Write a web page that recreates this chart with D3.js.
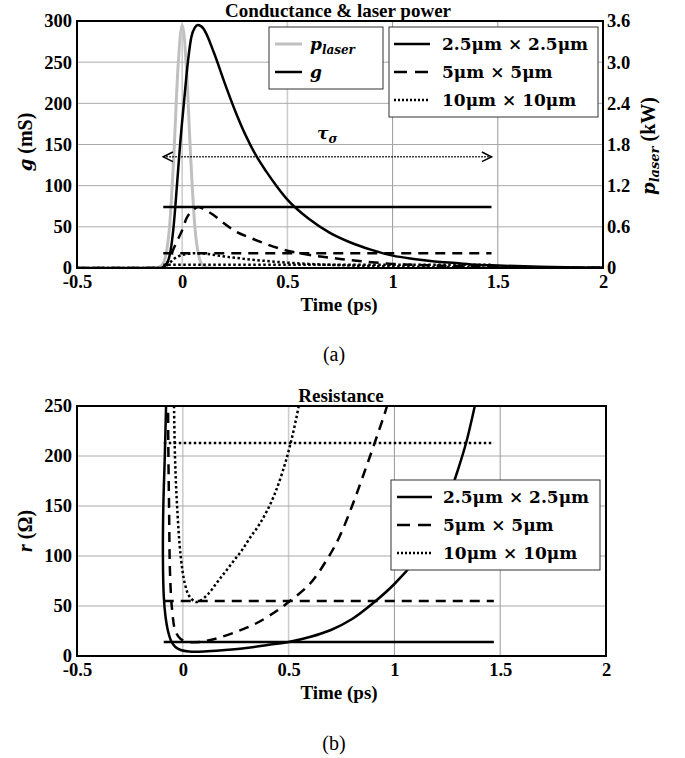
<!DOCTYPE html>
<html>
<head>
<meta charset="utf-8">
<script src="https://cdn.jsdelivr.net/npm/d3@7"></script>
<style>
body { margin: 0; background: #fff; }
</style>
</head>
<body>
<script>
// data
const xTicks = [-0.5, 0, 0.5, 1, 1.5, 2];
const gTicks = [0, 50, 100, 150, 200, 250, 300];
const pTicks = [0, 0.6, 1.2, 1.8, 2.4, 3.0, 3.6];
const rTicks = [0, 50, 100, 150, 200, 250];
const sizeNames = ["2.5μm × 2.5μm", "5μm × 5μm", "10μm × 10μm"];

// laser power (kW) vs time (ps)
const pLaser = [[-0.16, 0], [-0.12, 0.005], [-0.1, 0.03], [-0.08, 0.16], [-0.06, 0.61], [-0.04, 1.63], [-0.02, 2.92], [0, 3.54],
  [0.02, 2.92], [0.04, 1.63], [0.06, 0.61], [0.08, 0.16], [0.1, 0.03], [0.12, 0.005], [0.16, 0]];

// conductance g (mS)
const g25 = [[-0.5, 0], [-0.1, 0], [-0.08, 3], [-0.06, 15], [-0.05, 30], [-0.041, 50], [-0.025, 100], [-0.01, 150],
  [0.008, 200], [0.027, 250], [0.043, 280], [0.06, 292], [0.075, 295], [0.1, 291], [0.15, 262], [0.2, 226], [0.25, 192],
  [0.3, 162], [0.35, 137], [0.4, 117], [0.45, 99], [0.5, 83], [0.6, 60], [0.7, 43], [0.8, 31], [0.9, 22], [1.0, 15],
  [1.1, 11], [1.2, 8], [1.3, 6], [1.4, 4], [1.5, 3], [1.7, 1.5], [2.0, 0.5]];
const g5 = [[-0.5, 0], [-0.1, 0], [-0.08, 3], [-0.06, 12], [-0.04, 24], [-0.02, 35], [0, 46], [0.02, 60], [0.05, 70],
  [0.075, 74], [0.1, 72], [0.15, 64], [0.2, 54], [0.25, 45], [0.33, 36], [0.4, 29], [0.5, 21], [0.6, 16], [0.75, 11],
  [0.9, 7], [1.0, 5], [1.2, 3], [1.5, 1.2], [2.0, 0.3]];
const g10 = [[-0.5, 0], [-0.1, 0], [-0.08, 2], [-0.06, 6], [-0.04, 11], [-0.02, 14], [0.02, 17], [0.06, 18], [0.1, 17.5],
  [0.2, 14], [0.3, 11], [0.4, 8.5], [0.5, 6.5], [0.6, 5], [0.8, 3], [1.0, 2], [1.3, 1], [1.6, 0.5], [2.0, 0.2]];
const gLevels = [74, 18, 4];
const levelStart = -0.09;
const levelEnd = 1.47;
const tauArrow = [-0.09, 1.47, 135];

// resistance r (ohm)
const r25 = [[-0.078, 260], [-0.085, 200], [-0.092, 150], [-0.094, 100], [-0.09, 60], [-0.082, 40], [-0.07, 25],
  [-0.055, 15], [-0.035, 9], [-0.01, 6], [0.03, 4.5], [0.1, 4.5], [0.2, 6], [0.3, 8], [0.4, 11], [0.5, 14], [0.6, 19],
  [0.7, 26], [0.8, 37], [0.9, 53], [1.0, 72], [1.1, 96], [1.2, 128], [1.25, 155], [1.3, 186], [1.34, 214], [1.38, 250], [1.39, 260]];
const r5 = [[-0.07, 260], [-0.068, 200], [-0.065, 150], [-0.06, 80], [-0.05, 45], [-0.035, 25], [-0.01, 17], [0.03, 14],
  [0.08, 14], [0.15, 17], [0.25, 24], [0.35, 33], [0.45, 46], [0.5, 54], [0.6, 72], [0.68, 96], [0.74, 119], [0.8, 150],
  [0.85, 179], [0.9, 209], [0.965, 250], [0.975, 260]];
const r10 = [[-0.042, 260], [-0.037, 200], [-0.027, 150], [-0.01, 100], [0.01, 72], [0.03, 60], [0.06, 54], [0.08, 55],
  [0.12, 62], [0.16, 73], [0.2, 84], [0.24, 95], [0.28, 106], [0.32, 119], [0.36, 131], [0.4, 146], [0.44, 165],
  [0.48, 190], [0.5, 205], [0.52, 222], [0.546, 248], [0.556, 260]];
const rLevels = [14, 55, 213];

const dashes = [null, "10,7", "2.5,2.5"];
const legendDashes = [null, "13,8", "2,2"];
const serif = "'Liberation Serif', 'Times New Roman', serif";
const mathFont = "'DejaVu Serif', serif";

const svg = d3.select("body").append("svg")
  .attr("width", 685)
  .attr("height", 758)
  .attr("font-family", serif);

svg.append("defs").append("marker")
  .attr("id", "arr")
  .attr("viewBox", "0 0 10 10")
  .attr("refX", 9).attr("refY", 5)
  .attr("markerWidth", 8).attr("markerHeight", 8)
  .attr("orient", "auto-start-reverse")
  .append("path")
  .attr("d", "M1,1 L9,5 L1,9")
  .attr("fill", "none")
  .attr("stroke", "#000")
  .attr("stroke-width", 1.3);

// tick labels only, no tick marks or domain line
function styleTicks(a) {
  a.select(".domain").remove();
  a.attr("font-family", serif);
  a.selectAll("text")
    .attr("font-family", serif)
    .attr("font-size", 18.5)
    .attr("font-weight", "bold")
    .attr("fill", "#000");
}

function drawFrame(g, x, y, ticksY, clipId) {
  const [x0, x1] = x.range();
  const [y0, y1] = y.range();
  g.append("clipPath").attr("id", clipId)
    .append("rect").attr("x", x0).attr("y", y1).attr("width", x1 - x0).attr("height", y0 - y1);

  // grid
  g.append("g").selectAll("line").data(xTicks.slice(1, -1)).enter().append("line")
    .attr("x1", d => x(d)).attr("x2", d => x(d))
    .attr("y1", y0).attr("y2", y1)
    .attr("stroke", d => d < 0.75 ? "#cdcdcd" : "#999")
    .attr("stroke-width", d => d < 0.75 ? 1.6 : 1);
  g.append("g").selectAll("line").data(ticksY.slice(1, -1)).enter().append("line")
    .attr("x1", x0).attr("x2", x1)
    .attr("y1", d => y(d)).attr("y2", d => y(d))
    .attr("stroke", "#aaa")
    .attr("stroke-width", 1);

  g.append("g")
    .attr("transform", `translate(0,${y0})`)
    .call(d3.axisBottom(x).tickValues(xTicks).tickSize(0).tickPadding(7).tickFormat(d => String(d)))
    .call(styleTicks);
  g.append("g")
    .attr("transform", `translate(${x0},0)`)
    .call(d3.axisLeft(y).tickValues(ticksY).tickSize(0).tickPadding(5).tickFormat(d => String(d)))
    .call(styleTicks);
}

function box(g, x, y) {
  const [x0, x1] = x.range();
  const [y0, y1] = y.range();
  g.append("rect")
    .attr("x", x0).attr("y", y1).attr("width", x1 - x0).attr("height", y0 - y1)
    .attr("fill", "none").attr("stroke", "#000").attr("stroke-width", 2);
}

function legend(g, left, top, w, rowH, items) {
  g.append("rect")
    .attr("x", left).attr("y", top).attr("width", w).attr("height", rowH * items.length + 6)
    .attr("fill", "#fff").attr("stroke", "#333").attr("stroke-width", 1);
  items.forEach((it, i) => {
    const cy = top + 3 + rowH * (i + 0.5);
    g.append("line")
      .attr("x1", left + it.x1).attr("x2", left + it.x2)
      .attr("y1", cy).attr("y2", cy)
      .attr("stroke", it.color || "#000")
      .attr("stroke-width", it.width || 2.5)
      .attr("stroke-dasharray", it.dash);
    const t = g.append("text")
      .attr("x", left + it.tx).attr("y", cy + 6)
      .attr("font-family", mathFont)
      .attr("font-size", 17).attr("font-weight", "bold");
    it.label(t);
  });
}

// ---------- (a) conductance & laser power ----------
const xa = d3.scaleLinear().domain([-0.5, 2]).range([77, 603]);
const ya = d3.scaleLinear().domain([0, 300]).range([268, 21]);
const yp = d3.scaleLinear().domain([0, 3.6]).range([268, 21]);

const ga = svg.append("g");
drawFrame(ga, xa, ya, gTicks, "clipA");

ga.append("g")
  .attr("transform", `translate(${xa.range()[1]},0)`)
  .call(d3.axisRight(yp).tickValues(pTicks).tickSize(0).tickPadding(4).tickFormat(d => d === 0 ? "0" : d3.format(".1f")(d)))
  .call(styleTicks);

const lineA = d3.line().x(d => xa(d[0])).y(d => ya(d[1])).curve(d3.curveMonotoneX);
const lineP = d3.line().x(d => xa(d[0])).y(d => yp(d[1])).curve(d3.curveMonotoneX);

const plotA = ga.append("g").attr("clip-path", "url(#clipA)");
plotA.append("path").datum(pLaser)
  .attr("d", lineP).attr("fill", "none").attr("stroke", "#c0c0c0").attr("stroke-width", 3);

[g25, g5, g10].forEach((s, i) => {
  plotA.append("path").datum(s)
    .attr("d", lineA).attr("fill", "none").attr("stroke", "#000")
    .attr("stroke-width", 2.5).attr("stroke-dasharray", dashes[i]);
});
gLevels.forEach((v, i) => {
  plotA.append("line")
    .attr("x1", xa(levelStart)).attr("x2", xa(levelEnd))
    .attr("y1", ya(v)).attr("y2", ya(v))
    .attr("stroke", "#000").attr("stroke-width", 2.5).attr("stroke-dasharray", dashes[i]);
});

// tau_sigma arrow
plotA.append("line")
  .attr("x1", xa(tauArrow[0])).attr("x2", xa(tauArrow[1]))
  .attr("y1", ya(tauArrow[2])).attr("y2", ya(tauArrow[2]))
  .attr("stroke", "#000").attr("stroke-width", 1.5).attr("stroke-dasharray", "1.5,1.5")
  .attr("marker-start", "url(#arr)").attr("marker-end", "url(#arr)");
const tau = ga.append("text")
  .attr("x", 317).attr("y", 139)
  .attr("font-family", mathFont)
  .attr("font-size", 17).attr("font-weight", "bold").attr("font-style", "italic");
tau.append("tspan").text("τ");
tau.append("tspan").attr("font-size", 12).attr("dy", 4).text("σ");

box(ga, xa, ya);

ga.append("text")
  .attr("x", 338).attr("y", 17)
  .attr("text-anchor", "middle").attr("font-size", 19).attr("font-weight", "bold")
  .text("Conductance & laser power");

legend(ga, 269, 27, 114, 28, [
  { x1: 6, x2: 33, tx: 41, color: "#c0c0c0", width: 3,
    label: t => { t.append("tspan").attr("font-style", "italic").text("p"); t.append("tspan").attr("font-style", "italic").attr("font-size", 12).attr("dy", 4).text("laser"); } },
  { x1: 6, x2: 33, tx: 41,
    label: t => t.append("tspan").attr("font-style", "italic").text("g") }
]);
legend(ga, 389, 27, 209, 28, sizeNames.map((n, i) => ({
  x1: 5, x2: 41, tx: 53, dash: legendDashes[i], label: t => t.text(n)
})));

ga.append("text")
  .attr("x", 339).attr("y", 311)
  .attr("text-anchor", "middle").attr("font-size", 19).attr("font-weight", "bold")
  .text("Time (ps)");

const gLab = ga.append("text")
  .attr("transform", "translate(32,142) rotate(-90)")
  .attr("text-anchor", "middle").attr("font-size", 20).attr("font-weight", "bold");
gLab.append("tspan").attr("font-family", mathFont).attr("font-style", "italic").attr("font-size", 18).text("g");
gLab.append("tspan").text(" (mS)");

const pLab = ga.append("text")
  .attr("transform", "translate(655,146) rotate(-90)")
  .attr("text-anchor", "middle").attr("font-size", 20).attr("font-weight", "bold");
pLab.append("tspan").attr("font-family", mathFont).attr("font-style", "italic").attr("font-size", 18).text("p");
pLab.append("tspan").attr("font-family", mathFont).attr("font-style", "italic").attr("font-size", 13).attr("dy", 4).text("laser");
pLab.append("tspan").attr("dy", -4).text(" (kW)");

svg.append("text")
  .attr("x", 334).attr("y", 361)
  .attr("text-anchor", "middle").attr("font-size", 20)
  .text("(a)");

// ---------- (b) resistance ----------
const xb = d3.scaleLinear().domain([-0.5, 2]).range([77, 606]);
const yb = d3.scaleLinear().domain([0, 250]).range([656, 406]);

const gb = svg.append("g");
drawFrame(gb, xb, yb, rTicks, "clipB");

const lineB = d3.line().x(d => xb(d[0])).y(d => yb(d[1])).curve(d3.curveCatmullRom);
const plotB = gb.append("g").attr("clip-path", "url(#clipB)");
[r25, r5, r10].forEach((s, i) => {
  plotB.append("path").datum(s)
    .attr("d", lineB).attr("fill", "none").attr("stroke", "#000")
    .attr("stroke-width", 2.5).attr("stroke-dasharray", dashes[i]);
});
rLevels.forEach((v, i) => {
  plotB.append("line")
    .attr("x1", xb(levelStart)).attr("x2", xb(levelEnd))
    .attr("y1", yb(v)).attr("y2", yb(v))
    .attr("stroke", "#000").attr("stroke-width", 2.5).attr("stroke-dasharray", dashes[i]);
});

box(gb, xb, yb);

gb.append("text")
  .attr("x", 341).attr("y", 402)
  .attr("text-anchor", "middle").attr("font-size", 19).attr("font-weight", "bold")
  .text("Resistance");

legend(gb, 391, 480, 209, 28, sizeNames.map((n, i) => ({
  x1: 6, x2: 41, tx: 52, dash: legendDashes[i], label: t => t.text(n)
})));

gb.append("text")
  .attr("x", 339).attr("y", 699)
  .attr("text-anchor", "middle").attr("font-size", 19).attr("font-weight", "bold")
  .text("Time (ps)");

const rLab = gb.append("text")
  .attr("transform", "translate(32,531) rotate(-90)")
  .attr("text-anchor", "middle").attr("font-size", 20).attr("font-weight", "bold");
rLab.append("tspan").attr("font-style", "italic").text("r");
rLab.append("tspan").text(" (Ω)");

svg.append("text")
  .attr("x", 334).attr("y", 750)
  .attr("text-anchor", "middle").attr("font-size", 20)
  .text("(b)");
</script>
</body>
</html>
